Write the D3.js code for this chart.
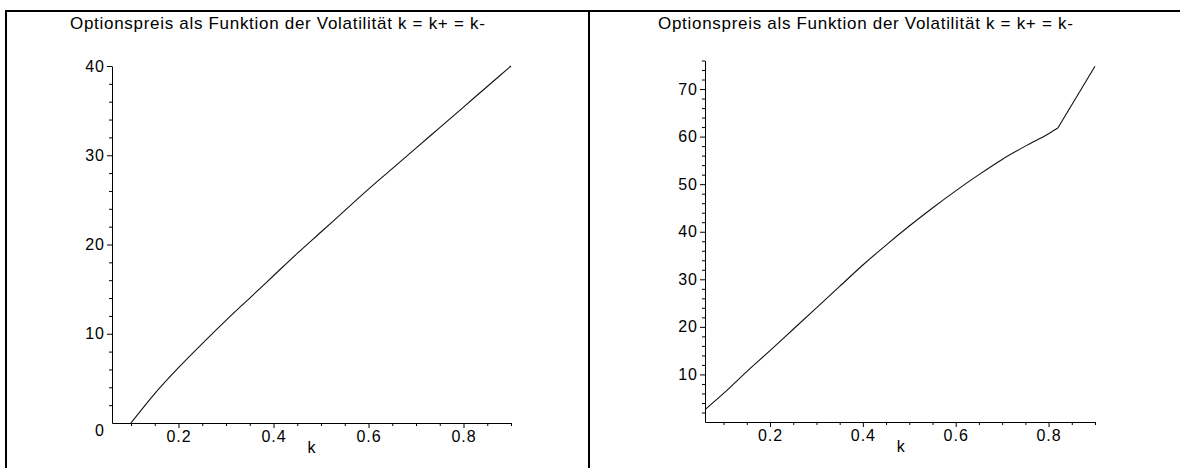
<!DOCTYPE html>
<html>
<head>
<meta charset="utf-8">
<script src="https://cdn.jsdelivr.net/npm/d3@7"></script>
<style>
  html, body { margin: 0; padding: 0; background: #fff; }
  svg { display: block; }
  text { font-family: "Liberation Sans", Arial, sans-serif; fill: #000; }
</style>
</head>
<body>
<svg id="chart" width="1180" height="468"></svg>
<script>
// Volatility k on the horizontal axis
const kLeft  = [0.10, 0.15, 0.20, 0.25, 0.30, 0.35, 0.40, 0.45, 0.50, 0.55, 0.60, 0.65, 0.70, 0.75, 0.80, 0.85, 0.90];
const priceLeft = [0.0, 3.3, 6.2, 8.9, 11.5, 14.0, 16.5, 19.0, 21.4, 23.8, 26.2, 28.5, 30.8, 33.1, 35.4, 37.7, 40.0];

const kRight = [0.06, 0.10, 0.15, 0.20, 0.25, 0.30, 0.35, 0.40, 0.45, 0.50, 0.55, 0.60, 0.65, 0.70, 0.75, 0.80, 0.82, 0.90];
const priceRight = [2.6, 6.0, 10.6, 15.0, 19.5, 24.0, 28.5, 33.0, 37.2, 41.2, 45.0, 48.6, 52.0, 55.2, 58.0, 60.6, 61.8, 74.8];
const kinkIndex = 16; // the curve breaks at k = 0.82

const xTicks = [0.2, 0.4, 0.6, 0.8];
const xMinor = [0.1, 0.15, 0.25, 0.3, 0.35, 0.45, 0.5, 0.55, 0.65, 0.7, 0.75, 0.85, 0.9];
const yTicksLeft = [10, 20, 30, 40];
const yTicksRight = [10, 20, 30, 40, 50, 60, 70];

const titleText = "Optionspreis als Funktion der Volatilität k = k+ = k-";
const xLabel = "k";

const svg = d3.select("#chart");

// frame lines of the two panels
const frame = svg.append("g").attr("stroke", "#000").attr("stroke-width", 2);
frame.append("line").attr("x1", 5).attr("x2", 1180).attr("y1", 11).attr("y2", 11);
frame.append("line").attr("x1", 6).attr("x2", 6).attr("y1", 10).attr("y2", 468);
frame.append("line").attr("x1", 589).attr("x2", 589).attr("y1", 10).attr("y2", 468);

function panel(opt) {
  const g = svg.append("g");
  const x = d3.scaleLinear().domain([0.06, 0.9]).range([opt.x0, opt.x1]);
  const y = d3.scaleLinear().domain(opt.yDomain).range([opt.y0, opt.y1]);

  g.append("text").attr("x", opt.titleX).attr("y", 29)
    .attr("font-size", 17).attr("letter-spacing", 0.7).text(titleText);

  // x axis: major and minor ticks below the line
  const xa = g.append("g").attr("transform", `translate(0,${opt.y0})`)
    .call(d3.axisBottom(x).tickValues(xTicks).tickSize(5).tickSizeOuter(0)
      .tickFormat(d3.format(".1f")));
  xa.selectAll("text").attr("font-size", 16).attr("font-family", "Liberation Sans, Arial, sans-serif")
    .attr("letter-spacing", 1).attr("dy", "0.95em").attr("y", 4);
  g.append("g").attr("transform", `translate(0,${opt.y0})`)
    .call(d3.axisBottom(x).tickValues(xMinor).tickSize(3).tickFormat(""))
    .select(".domain").remove();

  // y axis: major and minor ticks left of the line
  const ya = g.append("g").attr("transform", `translate(${opt.x0},0)`)
    .call(d3.axisLeft(y).tickValues(opt.yTicks).tickSize(5).tickSizeOuter(0)
      .tickFormat(d3.format("d")));
  ya.selectAll("text").attr("font-size", 16).attr("font-family", "Liberation Sans, Arial, sans-serif")
    .attr("letter-spacing", 1).attr("x", -7);
  g.append("g").attr("transform", `translate(${opt.x0},0)`)
    .call(d3.axisLeft(y).tickValues(opt.yMinor).tickSize(3).tickFormat(""))
    .select(".domain").remove();

  g.selectAll(".domain").attr("stroke", "#000");
  g.selectAll(".tick line").attr("stroke", "#000");

  if (opt.zeroLabel) {
    g.append("text").attr("x", opt.x0 - 8).attr("y", opt.y0 + 13)
      .attr("text-anchor", "end").attr("font-size", 16).text("0");
  }

  g.append("text").attr("x", x(0.4) + 38).attr("y", opt.y0 + 30)
    .attr("text-anchor", "middle").attr("font-size", 16).text(xLabel);

  const line = d3.line().x(d => x(d[0])).y(d => y(d[1]));
  opt.segments.forEach(seg => {
    g.append("path").datum(seg.data)
      .attr("fill", "none").attr("stroke", "#111").attr("stroke-width", 1.1)
      .attr("d", line.curve(seg.curve)(seg.data));
  });
}

const leftData = kLeft.map((k, i) => [k, priceLeft[i]]);
const rightData = kRight.map((k, i) => [k, priceRight[i]]);

panel({
  x0: 112, x1: 511, y0: 423, y1: 66, yDomain: [0, 40],
  yTicks: yTicksLeft, yMinor: d3.range(2, 40, 2).filter(v => v % 10 !== 0),
  titleX: 70, zeroLabel: true,
  segments: [{ data: leftData, curve: d3.curveMonotoneX }]
});

panel({
  x0: 705, x1: 1095, y0: 422, y1: 60.5, yDomain: [0, 76],
  yTicks: yTicksRight, yMinor: d3.range(2, 77, 2).filter(v => v % 10 !== 0),
  titleX: 658, zeroLabel: false,
  segments: [
    { data: rightData.slice(0, kinkIndex + 1), curve: d3.curveMonotoneX },
    { data: rightData.slice(kinkIndex), curve: d3.curveLinear }
  ]
});
</script>
</body>
</html>
